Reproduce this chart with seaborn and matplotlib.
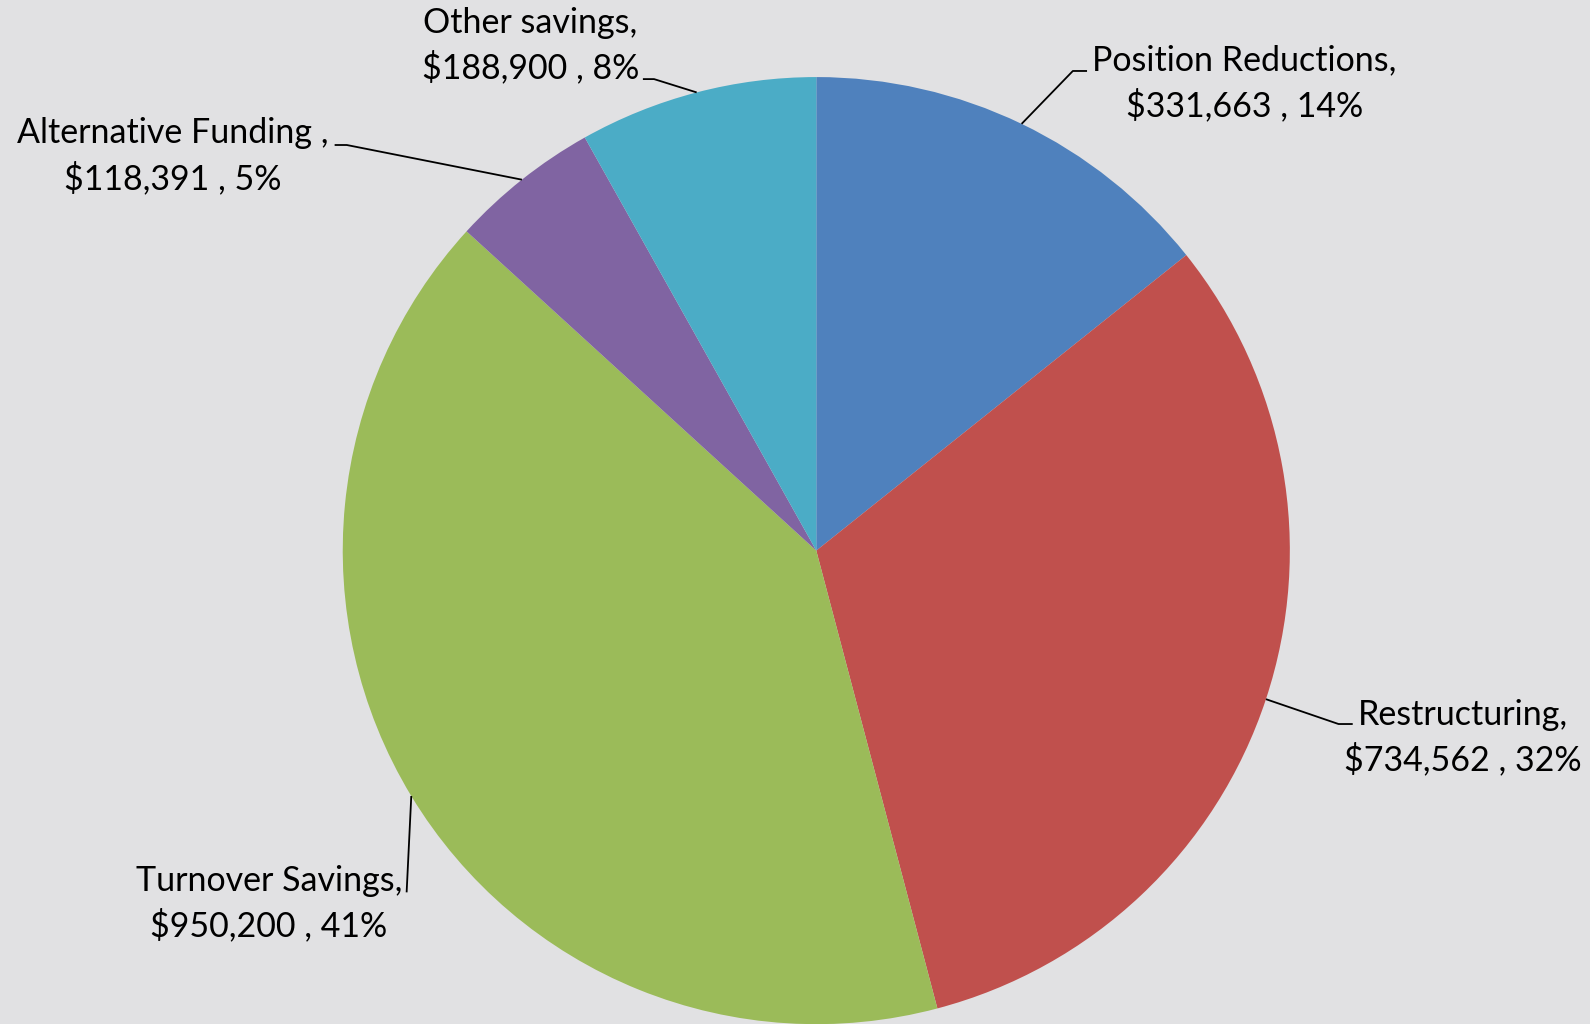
import numpy as np
import matplotlib.pyplot as plt
import seaborn as sns

# Data
categories = ["Position Reductions", "Restructuring", "Turnover Savings",
              "Alternative Funding", "Other savings"]
amounts = [331663, 734562, 950200, 118391, 188900]
# name part of the label as shown (Excel style, some with a space before the comma)
label_names = ["Position Reductions,", "Restructuring,", "Turnover Savings,",
               "Alternative Funding ,", "Other savings,"]
colors = ["#4F81BD", "#C0504D", "#9BBB59", "#8064A2", "#4BACC6"]

# Style
sns.set_style("white")
plt.rcParams['font.family'] = ['Lato', 'DejaVu Sans']
bg = "#E1E1E3"

W, H = 1590, 1024
sc = W / 1568.0  # layout measured on the 1568 wide view


def px(x, y):
    # layout point (top-left origin) -> data coords (bottom-left origin)
    return x * sc, H - y * sc


fig = plt.figure(figsize=(15.9, 10.24), dpi=100, facecolor=bg)
ax = fig.add_axes([0, 0, 1, 1])
ax.set_facecolor(bg)

cx, cy = px(805, 543)
radius = 467 * sc
wedges, _ = ax.pie(amounts, colors=colors, startangle=90, counterclock=False,
                   center=(cx, cy), radius=radius,
                   wedgeprops=dict(linewidth=0))
ax.set_xlim(0, W)
ax.set_ylim(0, H)
ax.set_aspect('equal')
ax.axis('off')

total = sum(amounts)

# label block centers, leader elbow and leader end (layout only)
label_pos = [(1227, 82), (1443, 727), (265, 891), (170, 154), (523, 45)]
elbows = [(1058, 70), (1320, 714), (401, 880), (342, 143), (645, 78)]
ends = [(1072, 70), (1334, 714), (401, 880), (330, 143), (634, 78)]

for i, w in enumerate(wedges):
    pct = round(100 * amounts[i] / total)
    text = f"{label_names[i]}\n${amounts[i]:,} , {pct}%"
    tx, ty = px(*label_pos[i])
    ax.text(tx, ty, text, ha='center', va='center', fontsize=24.5,
            linespacing=1.42, color='black')

    mid = np.deg2rad((w.theta1 + w.theta2) / 2)
    sx = cx + radius * np.cos(mid)
    sy = cy + radius * np.sin(mid)
    ex, ey = px(*elbows[i])
    nx, ny = px(*ends[i])
    ax.plot([sx, ex, nx], [sy, ey, ny], color='black', linewidth=1.3,
            solid_capstyle='butt')

fig.savefig("out.png", dpi=100, facecolor=bg)
